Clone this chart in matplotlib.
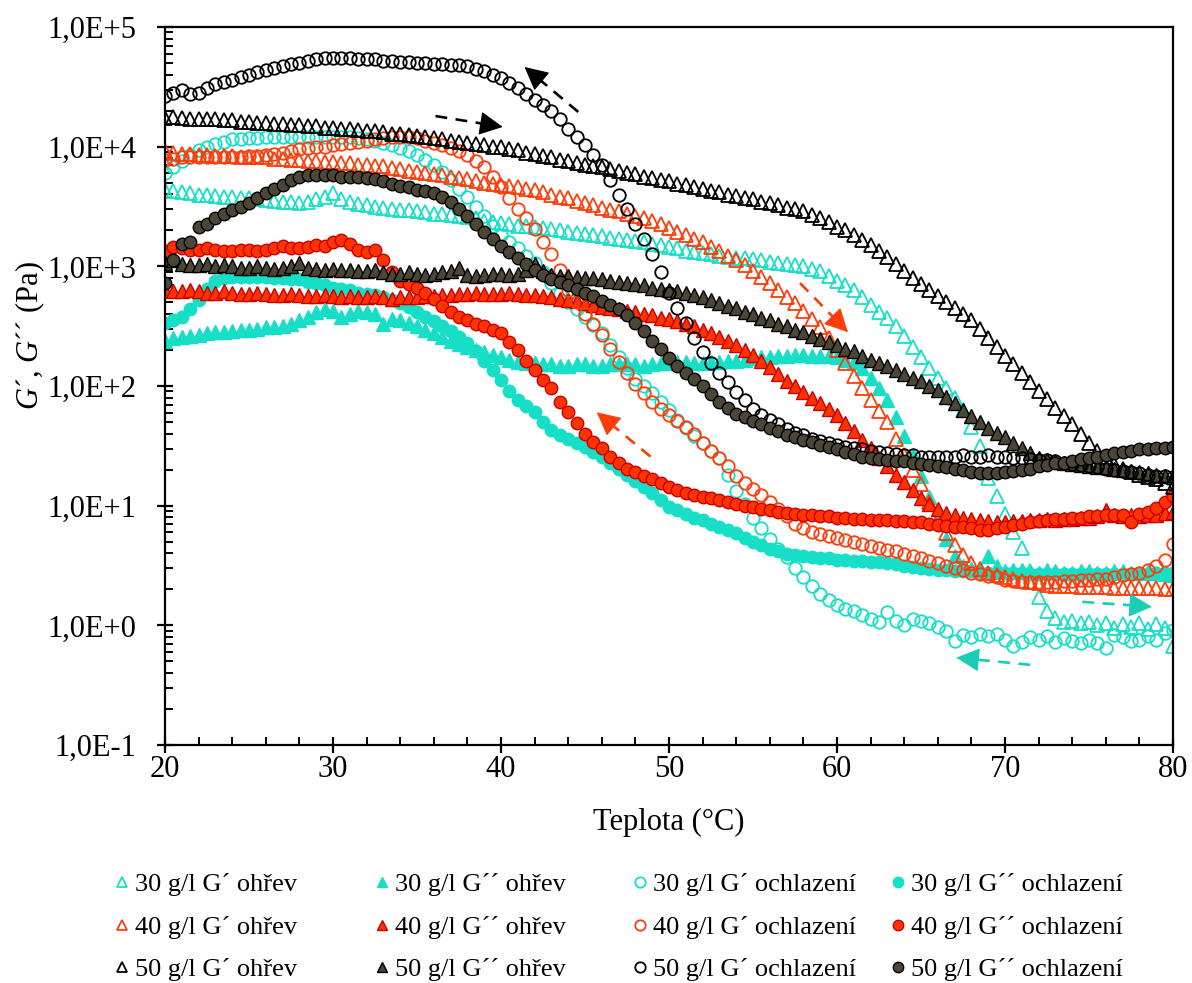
import numpy as np
import matplotlib
matplotlib.use("Agg")
import matplotlib.pyplot as plt
from matplotlib.ticker import MultipleLocator, LogLocator, FuncFormatter, NullFormatter
from matplotlib.lines import Line2D

plt.rcParams['font.family'] = ['Liberation Serif', 'DejaVu Serif']
plt.rcParams['mathtext.fontset'] = 'custom'
plt.rcParams['mathtext.it'] = 'Liberation Serif:italic'
plt.rcParams['mathtext.rm'] = 'Liberation Serif'

# ---------------- data (temperature in °C, moduli as log10(Pa)) ----------------
temperature = [
    20.0, 20.5, 21.0, 21.5, 22.0, 22.5, 23.0, 23.5, 24.0, 24.5,
    25.0, 25.5, 26.0, 26.5, 27.0, 27.5, 28.0, 28.5, 29.0, 29.5,
    30.0, 30.5, 31.0, 31.5, 32.0, 32.5, 33.0, 33.5, 34.0, 34.5,
    35.0, 35.5, 36.0, 36.5, 37.0, 37.5, 38.0, 38.5, 39.0, 39.5,
    40.0, 40.5, 41.0, 41.5, 42.0, 42.5, 43.0, 43.5, 44.0, 44.5,
    45.0, 45.5, 46.0, 46.5, 47.0, 47.5, 48.0, 48.5, 49.0, 49.5,
    50.0, 50.5, 51.0, 51.5, 52.0, 52.5, 53.0, 53.5, 54.0, 54.5,
    55.0, 55.5, 56.0, 56.5, 57.0, 57.5, 58.0, 58.5, 59.0, 59.5,
    60.0, 60.5, 61.0, 61.5, 62.0, 62.5, 63.0, 63.5, 64.0, 64.5,
    65.0, 65.5, 66.0, 66.5, 67.0, 67.5, 68.0, 68.5, 69.0, 69.5,
    70.0, 70.5, 71.0, 71.5, 72.0, 72.5, 73.0, 73.5, 74.0, 74.5,
    75.0, 75.5, 76.0, 76.5, 77.0, 77.5, 78.0, 78.5, 79.0, 79.5,
    80.0]

log_g1_30_heat = [
    3.64, 3.63, 3.62, 3.61, 3.60, 3.60, 3.59, 3.58, 3.58, 3.57,
    3.57, 3.56, 3.555, 3.55, 3.54, 3.54, 3.53, 3.54, 3.56, 3.58,
    3.61, 3.56, 3.54, 3.52, 3.51, 3.50, 3.49, 3.48, 3.47, 3.47,
    3.46, 3.45, 3.44, 3.44, 3.43, 3.42, 3.41, 3.40, 3.38, 3.37,
    3.36, 3.35, 3.34, 3.34, 3.33, 3.32, 3.31, 3.30, 3.29, 3.28,
    3.27, 3.26, 3.25, 3.24, 3.23, 3.22, 3.21, 3.20, 3.19, 3.18,
    3.16, 3.15, 3.13, 3.12, 3.11, 3.10, 3.09, 3.08, 3.07, 3.07,
    3.06, 3.05, 3.04, 3.03, 3.02, 3.01, 3.00, 2.98, 2.96, 2.92,
    2.88, 2.84, 2.80, 2.74, 2.68, 2.62, 2.57, 2.50, 2.42, 2.33,
    2.24, 2.15, 2.07, 1.98, 1.90, 1.80, 1.66, 1.50, 1.23, 1.08,
    0.93, 0.78, 0.65, 0.45, 0.24, 0.12, 0.06, 0.03, 0.04, 0.02,
    0.03, 0.00, 0.02, -0.02, 0.01, -0.01, 0.02, -0.03, 0.01, -0.02,
    -0.17]

log_g2_30_heat = [
    2.38, 2.40, 2.41, 2.42, 2.43, 2.44, 2.45, 2.45, 2.46, 2.47,
    2.47, 2.48, 2.49, 2.49, 2.50, 2.52, 2.55, 2.58, 2.62, 2.64,
    2.63, 2.58, 2.60, 2.63, 2.62, 2.60, 2.52, 2.56, 2.55, 2.53,
    2.50, 2.47, 2.44, 2.41, 2.38, 2.35, 2.33, 2.30, 2.28, 2.26,
    2.24, 2.22, 2.20, 2.19, 2.19, 2.18, 2.18, 2.17, 2.17, 2.18,
    2.18, 2.17, 2.17, 2.18, 2.18, 2.18, 2.18, 2.17, 2.18, 2.19,
    2.19, 2.20, 2.20, 2.19, 2.19, 2.20, 2.20, 2.21, 2.21, 2.22,
    2.23, 2.24, 2.24, 2.25, 2.25, 2.26, 2.26, 2.25, 2.25, 2.25,
    2.24, 2.22, 2.20, 2.15, 2.07, 1.98, 1.88, 1.74, 1.58, 1.42,
    1.25, 1.07, 0.90, 0.72, 0.58, 0.50, 0.47, 0.48, 0.58, 0.50,
    0.45, 0.46, 0.46, 0.44, 0.44, 0.46, 0.45, 0.44, 0.44, 0.45,
    0.45, 0.44, 0.44, 0.45, 0.45, 0.44, 0.44, 0.45, 0.44, 0.43,
    0.42]

log_g1_30_cool = [
    3.78, 3.83, 3.88, 3.93, 3.97, 4.00, 4.02, 4.04, 4.06, 4.06,
    4.07, 4.07, 4.08, 4.08, 4.08, 4.08, 4.08, 4.08, 4.08, 4.08,
    4.08, 4.08, 4.08, 4.07, 4.06, 4.05, 4.03, 4.01, 3.99, 3.96,
    3.93, 3.89, 3.85, 3.79, 3.72, 3.65, 3.58, 3.50, 3.42, 3.34,
    3.26, 3.20, 3.15, 3.09, 3.03, 2.95, 2.86, 2.78, 2.70, 2.64,
    2.58, 2.51, 2.44, 2.34, 2.24, 2.15, 2.06, 2.00, 1.94, 1.87,
    1.80, 1.72, 1.65, 1.58, 1.52, 1.46, 1.40, 1.26, 1.12, 1.01,
    0.90, 0.81, 0.72, 0.64, 0.57, 0.48, 0.40, 0.33, 0.26, 0.21,
    0.17, 0.14, 0.12, 0.09, 0.05, 0.03, 0.11, 0.04, 0.00, 0.05,
    0.04, 0.02, -0.01, -0.05, -0.13, -0.08, -0.10, -0.07, -0.09, -0.07,
    -0.12, -0.17, -0.14, -0.10, -0.12, -0.09, -0.14, -0.11, -0.13, -0.15,
    -0.12, -0.15, -0.19, -0.08, -0.10, -0.13, -0.12, -0.09, -0.12, -0.06,
    -0.04]

log_g2_30_cool = [
    2.53, 2.55, 2.58, 2.64, 2.72, 2.81, 2.88, 2.90, 2.91, 2.91,
    2.91, 2.91, 2.91, 2.90, 2.90, 2.89, 2.89, 2.87, 2.86, 2.84,
    2.82, 2.81, 2.80, 2.78, 2.77, 2.76, 2.74, 2.72, 2.69, 2.66,
    2.62, 2.58, 2.54, 2.50, 2.46, 2.41, 2.36, 2.29, 2.21, 2.13,
    2.05, 1.96, 1.88, 1.83, 1.78, 1.70, 1.63, 1.59, 1.56, 1.52,
    1.49, 1.45, 1.41, 1.36, 1.31, 1.26, 1.21, 1.16, 1.11, 1.05,
    0.99, 0.96, 0.93, 0.90, 0.88, 0.85, 0.82, 0.80, 0.77, 0.73,
    0.70, 0.67, 0.64, 0.62, 0.60, 0.59, 0.58, 0.57, 0.56, 0.56,
    0.55, 0.55, 0.54, 0.54, 0.53, 0.53, 0.52, 0.51, 0.50, 0.49,
    0.48, 0.47, 0.46, 0.46, 0.45, 0.45, 0.45, 0.44, 0.44, 0.44,
    0.44, 0.44, 0.44, 0.43, 0.43, 0.43, 0.43, 0.43, 0.43, 0.43,
    0.43, 0.43, 0.43, 0.43, 0.43, 0.43, 0.43, 0.43, 0.44, 0.44,
    0.44]

log_g1_40_heat = [
    3.96, 3.95, 3.94, 3.94, 3.93, 3.93, 3.92, 3.92, 3.92, 3.91,
    3.91, 3.91, 3.91, 3.90, 3.90, 3.89, 3.89, 3.88, 3.88, 3.87,
    3.87, 3.86, 3.86, 3.85, 3.85, 3.84, 3.84, 3.82, 3.81, 3.80,
    3.79, 3.78, 3.77, 3.76, 3.75, 3.74, 3.73, 3.71, 3.70, 3.69,
    3.68, 3.67, 3.66, 3.65, 3.64, 3.62, 3.60, 3.58, 3.57, 3.55,
    3.53, 3.51, 3.49, 3.47, 3.46, 3.44, 3.42, 3.40, 3.38, 3.35,
    3.32, 3.29, 3.26, 3.23, 3.20, 3.16, 3.13, 3.09, 3.05, 3.01,
    2.96, 2.91, 2.86, 2.80, 2.74, 2.69, 2.63, 2.56, 2.49, 2.40,
    2.30, 2.19, 2.08, 1.98, 1.88, 1.79, 1.70, 1.56, 1.42, 1.30,
    1.18, 1.03, 0.88, 0.77, 0.67, 0.59, 0.52, 0.47, 0.44, 0.42,
    0.40, 0.39, 0.37, 0.36, 0.35, 0.34, 0.33, 0.33, 0.33, 0.32,
    0.32, 0.32, 0.32, 0.31, 0.31, 0.31, 0.31, 0.31, 0.31, 0.30,
    0.30]

log_g2_40_heat = [
    2.80, 2.79, 2.79, 2.80, 2.79, 2.78, 2.78, 2.79, 2.78, 2.77,
    2.77, 2.78, 2.77, 2.76, 2.76, 2.77, 2.76, 2.75, 2.75, 2.76,
    2.75, 2.74, 2.75, 2.74, 2.74, 2.75, 2.74, 2.73, 2.74, 2.74,
    2.74, 2.75, 2.75, 2.76, 2.76, 2.77, 2.77, 2.78, 2.77, 2.77,
    2.77, 2.78, 2.77, 2.76, 2.76, 2.75, 2.74, 2.73, 2.72, 2.71,
    2.69, 2.68, 2.66, 2.65, 2.64, 2.63, 2.62, 2.60, 2.59, 2.57,
    2.56, 2.54, 2.52, 2.50, 2.47, 2.44, 2.41, 2.38, 2.34, 2.30,
    2.26, 2.21, 2.16, 2.10, 2.04, 2.00, 1.95, 1.90, 1.86, 1.81,
    1.76, 1.69, 1.62, 1.55, 1.48, 1.40, 1.33, 1.26, 1.20, 1.13,
    1.06, 1.01, 0.97, 0.94, 0.92, 0.90, 0.89, 0.88, 0.87, 0.86,
    0.86, 0.87, 0.87, 0.88, 0.88, 0.89, 0.88, 0.89, 0.89, 0.90,
    0.90, 0.91, 0.96, 0.92, 0.91, 0.92, 0.91, 0.92, 0.92, 0.94,
    0.95]

log_g1_40_cool = [
    3.89, 3.90, 3.91, 3.91, 3.91, 3.91, 3.91, 3.91, 3.91, 3.91,
    3.92, 3.92, 3.93, 3.94, 3.95, 3.96, 3.98, 3.99, 4.00, 4.00,
    4.01, 4.02, 4.03, 4.04, 4.05, 4.06, 4.07, 4.08, 4.08, 4.08,
    4.07, 4.05, 4.03, 4.01, 3.99, 3.96, 3.93, 3.88, 3.83, 3.75,
    3.66, 3.57, 3.48, 3.40, 3.31, 3.20, 3.10, 2.97, 2.80, 2.70,
    2.60, 2.52, 2.43, 2.31, 2.20, 2.11, 2.02, 1.94, 1.87, 1.81,
    1.76, 1.71, 1.66, 1.60, 1.52, 1.46, 1.40, 1.33, 1.25, 1.19,
    1.14, 1.09, 1.03, 0.97, 0.91, 0.85, 0.81, 0.78, 0.76, 0.75,
    0.73, 0.71, 0.70, 0.68, 0.66, 0.65, 0.63, 0.62, 0.60, 0.58,
    0.56, 0.54, 0.52, 0.50, 0.48, 0.46, 0.44, 0.43, 0.41, 0.40,
    0.38, 0.37, 0.36, 0.36, 0.36, 0.36, 0.36, 0.37, 0.37, 0.38,
    0.38, 0.39, 0.39, 0.40, 0.42, 0.43, 0.44, 0.46, 0.50, 0.55,
    0.68]

log_g2_40_cool = [
    3.13, 3.16, 3.15, 3.14, 3.14, 3.15, 3.14, 3.13, 3.13, 3.14,
    3.14, 3.13, 3.14, 3.15, 3.17, 3.15, 3.15, 3.16, 3.18, 3.17,
    3.20, 3.22, 3.19, 3.14, 3.12, 3.14, 3.05, 2.95, 2.88, 2.85,
    2.82, 2.78, 2.73, 2.67, 2.62, 2.58, 2.55, 2.52, 2.50, 2.47,
    2.44, 2.37, 2.30, 2.21, 2.13, 2.05, 1.98, 1.87, 1.78, 1.69,
    1.60, 1.53, 1.48, 1.41, 1.36, 1.31, 1.28, 1.25, 1.22, 1.19,
    1.16, 1.13, 1.11, 1.09, 1.07, 1.06, 1.05, 1.03, 1.01, 1.00,
    0.99, 0.97, 0.96, 0.95, 0.94, 0.93, 0.92, 0.92, 0.91, 0.91,
    0.90, 0.90, 0.89, 0.89, 0.88, 0.88, 0.88, 0.87, 0.87, 0.86,
    0.86, 0.85, 0.84, 0.83, 0.82, 0.82, 0.81, 0.80, 0.80, 0.81,
    0.82, 0.84, 0.85, 0.86, 0.87, 0.88, 0.89, 0.89, 0.90, 0.90,
    0.91, 0.91, 0.92, 0.92, 0.92, 0.86, 0.93, 0.95, 0.98, 1.03,
    1.08]

log_g1_50_heat = [
    4.24, 4.25, 4.24, 4.23, 4.23, 4.23, 4.23, 4.22, 4.22, 4.21,
    4.21, 4.20, 4.20, 4.19, 4.19, 4.18, 4.18, 4.17, 4.17, 4.16,
    4.16, 4.15, 4.15, 4.14, 4.13, 4.13, 4.12, 4.11, 4.11, 4.10,
    4.09, 4.08, 4.07, 4.06, 4.05, 4.04, 4.03, 4.02, 4.01, 4.00,
    4.00, 3.98, 3.97, 3.95, 3.94, 3.92, 3.91, 3.89, 3.88, 3.86,
    3.85, 3.84, 3.83, 3.81, 3.80, 3.78, 3.77, 3.75, 3.74, 3.72,
    3.71, 3.69, 3.68, 3.66, 3.65, 3.63, 3.62, 3.60, 3.59, 3.57,
    3.56, 3.54, 3.53, 3.51, 3.49, 3.48, 3.46, 3.43, 3.40, 3.37,
    3.33, 3.30, 3.26, 3.22, 3.18, 3.13, 3.08, 3.02, 2.96, 2.90,
    2.85, 2.80, 2.75, 2.70, 2.65, 2.60, 2.55, 2.48, 2.40, 2.33,
    2.25, 2.18, 2.11, 2.03, 1.96, 1.89, 1.82, 1.75, 1.68, 1.60,
    1.52, 1.46, 1.40, 1.35, 1.31, 1.28, 1.26, 1.24, 1.22, 1.19,
    1.16]

log_g2_50_heat = [
    3.03, 3.05, 3.02, 3.01, 3.01, 3.02, 3.00, 3.01, 3.00, 2.99,
    2.99, 3.00, 2.99, 2.98, 2.99, 3.00, 3.03, 2.99, 2.98, 2.97,
    2.98, 2.97, 2.97, 2.96, 2.96, 2.97, 2.95, 2.94, 2.94, 2.95,
    2.94, 2.93, 2.94, 2.95, 2.96, 2.99, 2.93, 2.92, 2.93, 2.94,
    2.94, 2.93, 2.94, 2.97, 3.02, 2.96, 2.93, 2.92, 2.92, 2.91,
    2.90, 2.90, 2.89, 2.88, 2.87, 2.86, 2.85, 2.84, 2.82, 2.81,
    2.80, 2.79, 2.78, 2.76, 2.74, 2.72, 2.69, 2.67, 2.65, 2.62,
    2.60, 2.57, 2.55, 2.52, 2.50, 2.47, 2.45, 2.42, 2.39, 2.37,
    2.34, 2.31, 2.29, 2.25, 2.22, 2.19, 2.17, 2.13, 2.10, 2.07,
    2.04, 2.00, 1.97, 1.91, 1.86, 1.80, 1.75, 1.70, 1.65, 1.61,
    1.57, 1.52, 1.48, 1.44, 1.40, 1.38, 1.37, 1.36, 1.35, 1.34,
    1.33, 1.32, 1.32, 1.31, 1.30, 1.29, 1.28, 1.27, 1.26, 1.25,
    1.24]

log_g1_50_cool = [
    4.42, 4.45, 4.47, 4.44, 4.45, 4.49, 4.52, 4.54, 4.56, 4.58,
    4.60, 4.62, 4.64, 4.66, 4.67, 4.69, 4.70, 4.72, 4.73, 4.74,
    4.74, 4.74, 4.74, 4.73, 4.73, 4.73, 4.72, 4.72, 4.71, 4.71,
    4.70, 4.70, 4.69, 4.69, 4.68, 4.68, 4.67, 4.65, 4.63, 4.60,
    4.57, 4.53, 4.49, 4.44, 4.39, 4.35, 4.30, 4.23, 4.15, 4.08,
    4.01, 3.93, 3.85, 3.72, 3.60, 3.48, 3.35, 3.23, 3.10, 2.95,
    2.78, 2.65, 2.53, 2.40, 2.28, 2.19, 2.11, 2.03, 1.95, 1.88,
    1.81, 1.76, 1.72, 1.68, 1.64, 1.61, 1.59, 1.56, 1.54, 1.52,
    1.51, 1.49, 1.48, 1.47, 1.46, 1.45, 1.44, 1.43, 1.42, 1.42,
    1.41, 1.41, 1.41, 1.41, 1.41, 1.42, 1.41, 1.41, 1.42, 1.41,
    1.41, 1.40, 1.40, 1.39, 1.38, 1.38, 1.37, 1.36, 1.35, 1.34,
    1.33, 1.32, 1.31, 1.30, 1.29, 1.28, 1.27, 1.26, 1.25, 1.25,
    1.24]

log_g2_50_cool = [
    2.86, 3.05, 3.19, 3.20, 3.33, 3.35, 3.40, 3.44, 3.47, 3.50,
    3.53, 3.57, 3.61, 3.65, 3.68, 3.72, 3.75, 3.76, 3.76, 3.76,
    3.76, 3.75, 3.75, 3.75, 3.74, 3.73, 3.71, 3.69, 3.67, 3.66,
    3.64, 3.63, 3.61, 3.58, 3.54, 3.48, 3.42, 3.35, 3.29, 3.23,
    3.17, 3.12, 3.07, 3.02, 2.97, 2.93, 2.89, 2.87, 2.84, 2.81,
    2.78, 2.75, 2.71, 2.68, 2.64, 2.59, 2.53, 2.46, 2.38, 2.31,
    2.23, 2.17, 2.11, 2.06, 2.00, 1.93, 1.87, 1.82, 1.77, 1.74,
    1.71, 1.68, 1.65, 1.62, 1.59, 1.57, 1.55, 1.53, 1.51, 1.49,
    1.47, 1.45, 1.43, 1.41, 1.40, 1.39, 1.38, 1.37, 1.37, 1.36,
    1.35, 1.34, 1.33, 1.32, 1.31, 1.30, 1.28, 1.27, 1.27, 1.27,
    1.28, 1.29, 1.30, 1.31, 1.33, 1.34, 1.36, 1.36, 1.37, 1.39,
    1.40, 1.41, 1.42, 1.44, 1.45, 1.46, 1.47, 1.47, 1.48, 1.48,
    1.49]

labels = [
    "30 g/l G´ ohřev", "30 g/l G´´ ohřev", "30 g/l G´ ochlazení", "30 g/l G´´ ochlazení",
    "40 g/l G´ ohřev", "40 g/l G´´ ohřev", "40 g/l G´ ochlazení", "40 g/l G´´ ochlazení",
    "50 g/l G´ ohřev", "50 g/l G´´ ohřev", "50 g/l G´ ochlazení", "50 g/l G´´ ochlazení",
]

# direction arrows: (T_start, log_start, T_tip, log_tip)
arrow_black_heat = (36.1, 4.256, 40.1, 4.165)
arrow_black_cool = (44.6, 4.29, 41.4, 4.666)
arrow_red_heat = (57.8, 2.86, 60.65, 2.45)
arrow_red_cool = (48.9, 1.41, 45.7, 1.78)
arrow_cyan_heat = (74.6, 0.196, 78.75, 0.155)
arrow_cyan_cool = (71.5, -0.33, 67.1, -0.27)

# ---------------- styles ----------------
CYAN = '#17DEC6'
CYAN_ARROW = '#1ACDB5'
ORANGE = '#FF3D0A'
RED_FACE = '#FF3300'
RED_EDGE = '#C80000'
OLIVE = '#4B4636'
BLACK = '#000000'

series = [
    (log_g1_30_heat, dict(marker='^', mfc='none', mec=CYAN, ms=9.5, mew=1.3)),
    (log_g2_30_heat, dict(marker='^', mfc=CYAN, mec=CYAN, ms=9.5, mew=1.0)),
    (log_g1_30_cool, dict(marker='o', mfc='none', mec=CYAN, ms=9, mew=1.3)),
    (log_g2_30_cool, dict(marker='o', mfc=CYAN, mec=CYAN, ms=9, mew=1.0)),
    (log_g1_40_heat, dict(marker='^', mfc='none', mec=ORANGE, ms=9.5, mew=1.3)),
    (log_g2_40_heat, dict(marker='^', mfc=RED_FACE, mec=RED_EDGE, ms=9.5, mew=1.0)),
    (log_g1_40_cool, dict(marker='o', mfc='none', mec=ORANGE, ms=9, mew=1.3)),
    (log_g2_40_cool, dict(marker='o', mfc=RED_FACE, mec=RED_EDGE, ms=9, mew=1.0)),
    (log_g1_50_heat, dict(marker='^', mfc='none', mec=BLACK, ms=9.5, mew=1.3)),
    (log_g2_50_heat, dict(marker='^', mfc=OLIVE, mec=BLACK, ms=9.5, mew=1.0)),
    (log_g1_50_cool, dict(marker='o', mfc='none', mec=BLACK, ms=9, mew=1.3)),
    (log_g2_50_cool, dict(marker='o', mfc=OLIVE, mec=BLACK, ms=9, mew=1.0)),
]

fig = plt.figure(figsize=(11.92, 9.83), dpi=100)
ax = fig.add_axes([165 / 1192, 1 - 745 / 983, (1173 - 165) / 1192, (745 - 27) / 983])

T = np.array(temperature)
handles = []
for (logs, style), lab in zip(series, labels):
    vals = 10 ** np.array(logs)
    ax.plot(T, vals, linestyle='none', **style)
    hstyle = dict(style)
    hstyle['ms'] = 7.5
    handles.append(Line2D([], [], linestyle='none', label=lab, **hstyle))

ax.set_yscale('log')
ax.set_xlim(20, 80)
ax.set_ylim(0.1, 1e5)


def dashed_arrow(a, color):
    x0, l0, x1, l1 = a
    p0 = ax.transData.transform((x0, 10 ** l0))
    p1 = ax.transData.transform((x1, 10 ** l1))
    d = p1 - p0
    d = d / np.hypot(*d)
    head_px = 19.0
    base = p1 - d * head_px * 0.8
    b_data = ax.transData.inverted().transform(base)
    # dashed shaft
    ax.plot([x0, b_data[0]], [10 ** l0, b_data[1]], color=color, lw=1.9,
            linestyle=(0, (4.5, 3.2)), solid_capstyle='butt', dash_capstyle='butt')
    # solid head
    off = -d * head_px * 72.0 / 100.0
    ax.annotate('', xy=(x1, 10 ** l1), xytext=(off[0], off[1]), textcoords='offset points',
                arrowprops=dict(arrowstyle='-|>,head_length=0.75,head_width=0.38',
                                color=color, lw=0.8, shrinkA=0, shrinkB=0,
                                mutation_scale=20))


dashed_arrow(arrow_black_heat, BLACK)
dashed_arrow(arrow_black_cool, BLACK)
dashed_arrow(arrow_red_heat, ORANGE)
dashed_arrow(arrow_red_cool, ORANGE)
dashed_arrow(arrow_cyan_heat, CYAN_ARROW)
dashed_arrow(arrow_cyan_cool, CYAN_ARROW)

ax.set_xlim(20, 80)
ax.set_ylim(0.1, 1e5)
ax.xaxis.set_major_locator(MultipleLocator(10))
ax.xaxis.set_minor_locator(MultipleLocator(2))
ax.yaxis.set_major_locator(LogLocator(base=10, numticks=12))
ax.yaxis.set_minor_locator(LogLocator(base=10, subs=np.arange(2, 10), numticks=100))
ax.yaxis.set_major_formatter(FuncFormatter(lambda v, p: "1,0E{:+d}".format(int(round(np.log10(v))))))
ax.yaxis.set_minor_formatter(NullFormatter())

for sp in ax.spines.values():
    sp.set_linewidth(1.6)

ax.tick_params(axis='both', which='major', direction='inout', length=11, width=1.6,
               labelsize=22, colors='black')
ax.tick_params(axis='both', which='minor', direction='in', length=5.5, width=1.4)
ax.tick_params(axis='y', which='major', pad=15)
ax.tick_params(axis='x', which='major', pad=2)

ax.set_xlabel("Teplota (°C)", fontsize=22)
ax.xaxis.set_label_coords(0.5, -0.088)
ax.set_ylabel("$G$´, $G$´´ (Pa)", fontsize=22)
ax.yaxis.set_label_coords(-0.117, 0.57)

# legend: 4 columns, 3 rows (row-wise order as in the reference)
col_x = [114 / 1192, 374 / 1192, 632 / 1192, 890 / 1192]
for c in range(4):
    hs = [handles[c], handles[c + 4], handles[c + 8]]
    fig.legend(handles=hs, loc='upper left', bbox_to_anchor=(col_x[c], 1 - 873 / 983),
               frameon=False, fontsize=19, handlelength=0.6, handletextpad=0.2,
               labelspacing=0.72, borderpad=0, borderaxespad=0, numpoints=1)

fig.savefig('out.png', dpi=100)
